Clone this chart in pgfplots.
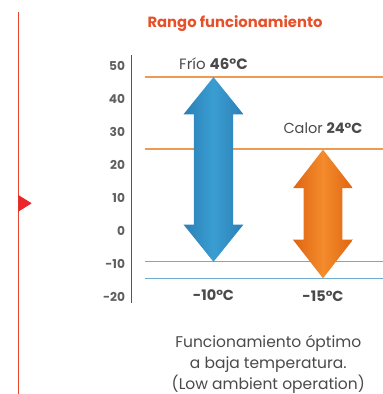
\documentclass[border=0pt]{standalone}
\usepackage{fontspec}
\setmainfont{Poppins}
\usepackage{pgfplots}
\pgfplotsset{compat=1.18}
\definecolor{titlered}{HTML}{E5512A}
\definecolor{txtgray}{HTML}{4A4A4A}
\definecolor{tickgray}{HTML}{606060}
\definecolor{axisgray}{HTML}{555555}
\definecolor{oline}{HTML}{EE9A55}
\definecolor{bline}{HTML}{6FAAD2}
\definecolor{bdark}{HTML}{2B80B6}
\definecolor{blight}{HTML}{3A9DD2}
\definecolor{odark}{HTML}{DF6512}
\definecolor{olight}{HTML}{F48B2C}
\definecolor{redline}{HTML}{E8462C}
\definecolor{redtri}{HTML}{E8262B}
\begin{document}
\begin{tikzpicture}[x=1pt,y=1pt]
\path[use as bounding box] (0,0) rectangle (383,394);
% decorative side marker
\draw[redline, line width=1pt] (18.3,382.3) -- (18.3,0);
\fill[redtri] (18.3,199) -- (31.7,190.7) -- (18.3,182.3) -- cycle;
\node[font=\bfseries\fontsize{14.8}{16}\selectfont, text=titlered] at (235,370) {Rango funcionamiento};
\begin{axis}[
  at={(131.7pt,91pt)}, anchor=south west, scale only axis,
  width=251.3pt, height=248pt,
  xmin=0.253, xmax=2.548, ymin=-22.5, ymax=52.7,
  separate axis lines,
  axis x line=none, axis y line=left,
  y axis line style={-, draw=axisgray, line width=1.1pt},
  ytick={-20,-10,0,10,20,30,40,50},
  major tick length=0pt,
  /pgf/number format/assume math mode=true,
  yticklabel style={font=\bfseries\fontsize{12.2}{13}\selectfont, text=tickgray, anchor=east, inner sep=0pt, xshift=-6.5pt, yshift=-2pt},
  clip=false,
]
% reference lines
\addplot[draw=oline, line width=1.4pt] coordinates {(0.374,46) (2.548,46)};
\addplot[draw=oline, line width=1.4pt] coordinates {(0.374,24.15) (2.548,24.15)};
\addplot[draw=bline, line width=1.4pt] coordinates {(0.374,-10) (2.548,-10)};
\addplot[draw=bline, line width=1.4pt] coordinates {(0.374,-15) (2.548,-15)};
% cooling range arrow: 46 to -10
\addplot[draw=none, left color=bdark, right color=bdark, middle color=blight] coordinates {
 (1,46) (1.274,34.7) (1.180,34.7) (1.180,1.3) (1.274,1.3) (1,-10)
 (0.726,1.3) (0.820,1.3) (0.820,34.7) (0.726,34.7)} -- cycle;
% heating range arrow: 24 to -15
\addplot[draw=none, left color=odark, right color=odark, middle color=olight] coordinates {
 (2,24) (2.274,12.3) (2.176,12.3) (2.176,-3.3) (2.274,-3.3) (2,-15)
 (1.726,-3.3) (1.824,-3.3) (1.824,12.3) (1.726,12.3)} -- cycle;
\node[font=\fontsize{15}{16}\selectfont, text=txtgray] at (axis cs:1,50.2) {Frío \textbf{46°C}};
\node[font=\fontsize{14.5}{16}\selectfont, text=txtgray] at (axis cs:2,30.5) {Calor \textbf{24°C}};
\node[font=\bfseries\fontsize{14.5}{16}\selectfont, text=txtgray] at (axis cs:1,-20.1) {-10°C};
\node[font=\bfseries\fontsize{14.5}{16}\selectfont, text=txtgray] at (axis cs:2,-20.4) {-15°C};
\end{axis}
\node[font=\fontsize{15.5}{20.8}\selectfont, text=txtgray, align=center] at (268.3,29.8) {Funcionamiento óptimo\\a baja temperatura.\\(Low ambient operation)};
\end{tikzpicture}
\end{document}
